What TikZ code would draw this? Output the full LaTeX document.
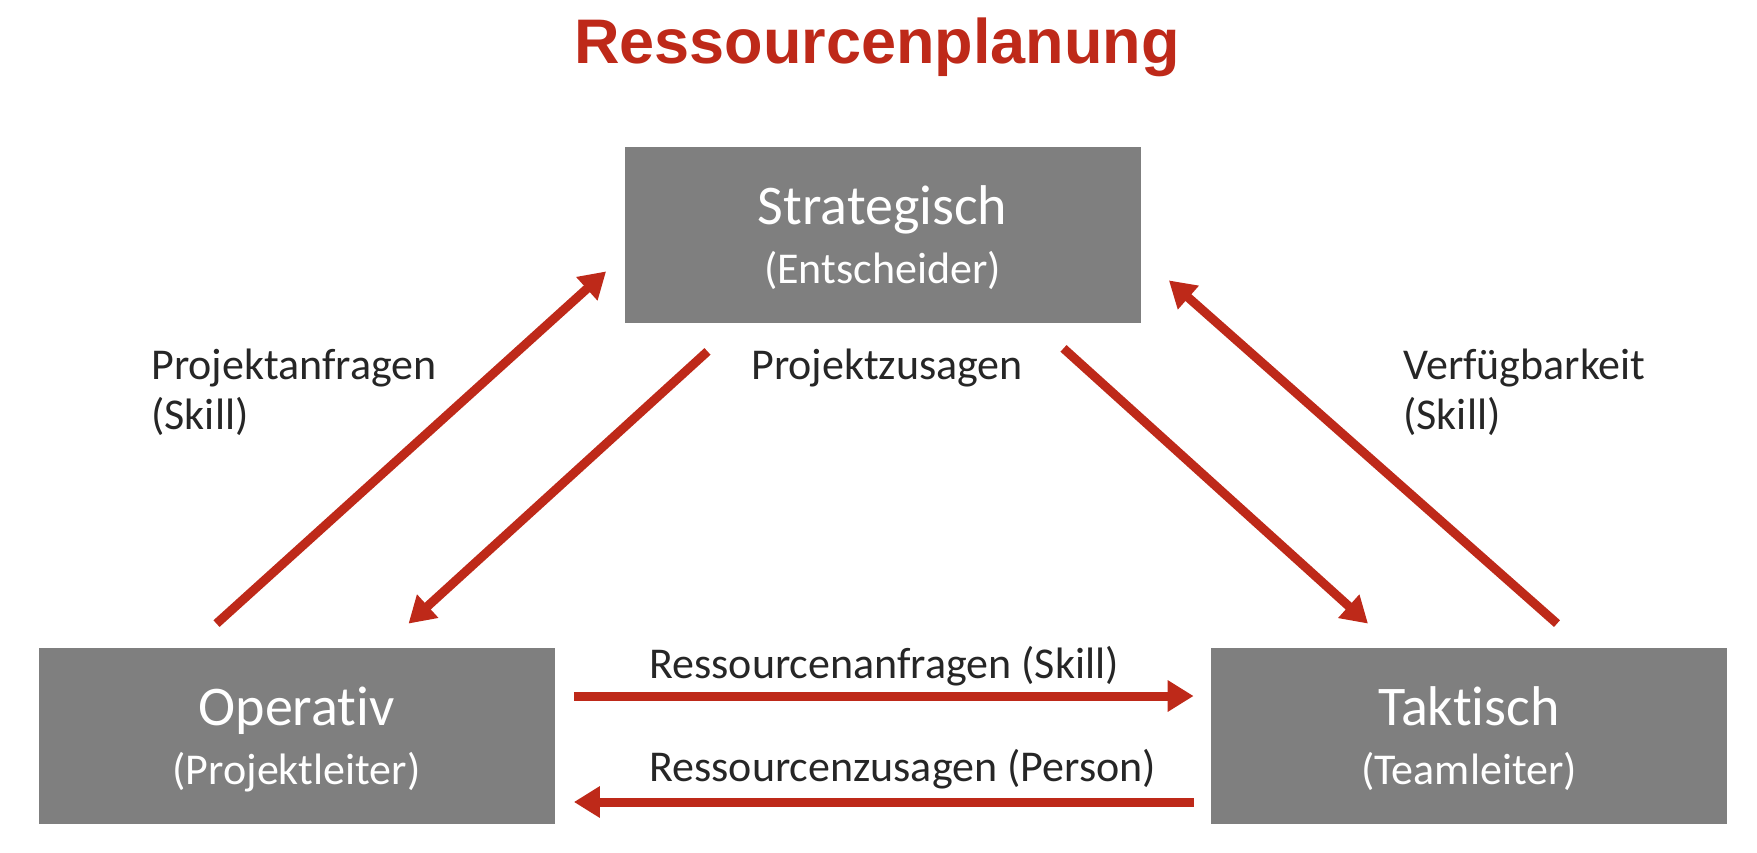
\documentclass[tikz,border=0pt]{standalone}
\usepackage{fontspec}
\setmainfont{Carlito}[Ligatures=CommonOff]
\newfontfamily\titlefont{Liberation Sans}
\usepackage{tikz}
\usetikzlibrary{arrows.meta, positioning, calc}
\usepackage{xcolor}
\definecolor{BrickRed}{RGB}{190, 41, 25}
\definecolor{BoxGray}{RGB}{127, 127, 127}
\definecolor{InkGray}{RGB}{38, 38, 38}

\begin{document}
\begin{tikzpicture}[
    x=0.5pt, y=-0.5pt,
    level/.style={rectangle, fill=BoxGray, text=white, minimum width=258pt, minimum height=88pt, align=center, inner sep=0pt, text depth=-9.5pt, font=\fontsize{22}{29.5}\selectfont},
    flowlabel/.style={text=InkGray, align=left, inner sep=0pt, font=\fontsize{22}{25}\selectfont},
    arrow/.style={draw=BrickRed, line width=4.5pt, -{Triangle[length=13pt, width=15pt]}}
]
\useasboundingbox (0,0) rectangle (1757,852);
\node[anchor=base, text=BrickRed, font=\titlefont\bfseries\fontsize{31.5}{36}\selectfont] (title) at (877,63) {Ressourcenplanung};

\node[level] (strat) at (882.5,235) {{\fontsize{28}{29.5}\selectfont Strategisch}\\(Entscheider)};
\node[level] (oper) at (296.5,736) {{\fontsize{28}{29.5}\selectfont Operativ}\\(Projektleiter)};
\node[level] (takt) at (1469,736) {{\fontsize{28}{29.5}\selectfont Taktisch}\\(Teamleiter)};

\node[flowlabel, anchor=base west] (anfragen) at (151,429) {Projektanfragen\\(Skill)};
\node[flowlabel, anchor=base] (zusagen) at (887,379) {Projektzusagen};
\node[flowlabel, anchor=base west] (verfuegbar) at (1403,429) {Verfügbarkeit\\(Skill)};
\node[flowlabel, anchor=base west] (resanfragen) at (649,678) {Ressourcenanfragen (Skill)};
\node[flowlabel, anchor=base west] (reszusagen) at (649,781) {Ressourcenzusagen (Person)};

\draw[arrow] ([shift={(-80,-24)}]oper.north) -- ([shift={(-18,-52)}]strat.south west);
\draw[arrow] ([shift={(-175,28)}]strat.south) -- ([shift={(112,-24)}]oper.north);
\draw[arrow] ([shift={(181,25)}]strat.south) -- ([shift={(-101,-24)}]takt.north);
\draw[arrow] ([shift={(88,-24)}]takt.north) -- ([shift={(28,-43)}]strat.south east);
\draw[arrow] ([shift={(19,-40)}]oper.east) -- ([shift={(-17,-40)}]takt.west);
\draw[arrow] ([shift={(-17,66)}]takt.west) -- ([shift={(19,66)}]oper.east);
\end{tikzpicture}
\end{document}
